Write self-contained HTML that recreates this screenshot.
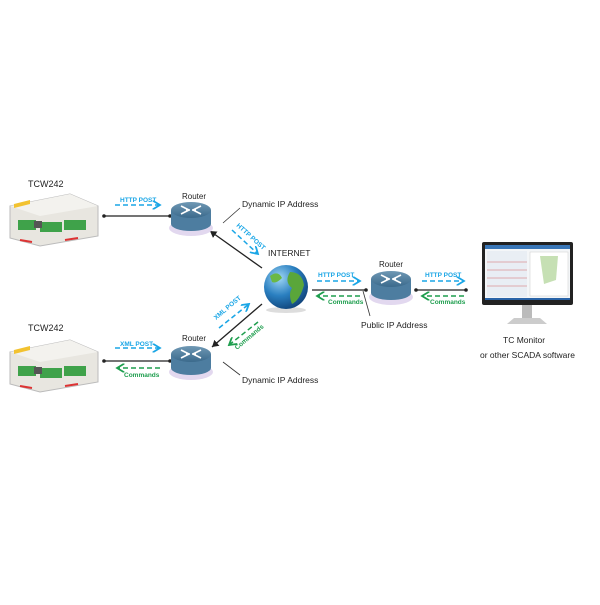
<!DOCTYPE html>
<html><head><style>
body{margin:0;background:#fff;width:600px;height:600px;overflow:hidden}
text{font-family:"Liberation Sans",sans-serif}
</style></head><body>
<svg width="600" height="600" viewBox="0 0 600 600">
<defs>
<linearGradient id="rt" x1="0" y1="0" x2="0" y2="1"><stop offset="0" stop-color="#6f98b4"/><stop offset="1" stop-color="#3b6a8c"/></linearGradient>
<radialGradient id="gl" cx="0.35" cy="0.3" r="0.8"><stop offset="0" stop-color="#9fd6f5"/><stop offset="0.5" stop-color="#2a7fc0"/><stop offset="1" stop-color="#0c3b70"/></radialGradient>
<g id="router">
<ellipse cx="0" cy="12" rx="22" ry="8" fill="#e2d8ef"/>
<path d="M-20,-6 L-20,8 A20,7 0 0 0 20,8 L20,-6 Z" fill="#4d7da0"/>
<ellipse cx="0" cy="-6" rx="20" ry="8" fill="url(#rt)"/>
<path d="M-10,-10 L-2,-6 M10,-10 L2,-6 M-10,-2 L-2,-6 M10,-2 L2,-6 M-5,-6 L-1,-6 M5,-6 L1,-6" stroke="#fff" stroke-width="1.6"/>
</g>
<g id="dev">
<path d="M0,12 L60,0 L88,12 L88,42 L30,52 L0,44 Z" fill="#e8e6e0" stroke="#bbb"/>
<path d="M0,12 L60,0 L88,12 L30,22 Z" fill="#f3f2ee"/>
<rect x="8" y="26" width="18" height="10" fill="#3fa24a"/>
<rect x="30" y="28" width="22" height="10" fill="#3fa24a"/>
<rect x="54" y="26" width="22" height="10" fill="#3fa24a"/>
<rect x="24" y="27" width="8" height="7" fill="#555"/>
<path d="M4,10 L20,6 L20,10 L4,14 Z" fill="#f2c230"/>
<path d="M10,46 L22,48 M55,46 L68,44" stroke="#d33" stroke-width="2"/>
</g>
<marker id="ab" markerWidth="6" markerHeight="6" refX="5" refY="3" orient="auto"><path d="M0,0 L5,3 L0,6" fill="none" stroke="#1aa6e6" stroke-width="1.2"/></marker>
<marker id="ag" markerWidth="6" markerHeight="6" refX="5" refY="3" orient="auto"><path d="M0,0 L5,3 L0,6" fill="none" stroke="#1e9e4e" stroke-width="1.2"/></marker>
<marker id="ak" markerWidth="6" markerHeight="6" refX="5" refY="3" orient="auto"><path d="M0,0 L5,3 L0,6 Z" fill="#222"/></marker>
</defs>

<g font-size="9" fill="#222">
<text x="28" y="187">TCW242</text>
<text x="28" y="331">TCW242</text>
<text x="182" y="199" font-size="8">Router</text>
<text x="182" y="341" font-size="8">Router</text>
<text x="379" y="267" font-size="8">Router</text>
<text x="242" y="207" font-size="8.5">Dynamic IP Address</text>
<text x="242" y="383" font-size="8.5">Dynamic IP Address</text>
<text x="268" y="256" font-size="8.5">INTERNET</text>
<text x="361" y="328" font-size="8.5">Public IP Address</text>
<text x="503" y="343" font-size="8.5">TC Monitor</text>
<text x="480" y="358" font-size="8.5">or other SCADA software</text>
</g>

<use href="#dev" x="10" y="194"/>
<use href="#dev" x="10" y="340"/>

<g stroke="#222" stroke-width="1.3">
<line x1="104" y1="216" x2="170" y2="216"/>
<line x1="104" y1="361" x2="170" y2="361"/>
<line x1="262" y1="268" x2="210" y2="231" marker-end="url(#ak)"/>
<line x1="262" y1="304" x2="212" y2="347" marker-end="url(#ak)"/>
<line x1="312" y1="290" x2="366" y2="290"/>
<line x1="416" y1="290" x2="466" y2="290"/>
</g>
<g stroke="#333" stroke-width="0.8">
<line x1="223" y1="223" x2="240" y2="208"/>
<line x1="223" y1="362" x2="240" y2="375"/>
<line x1="363" y1="291" x2="370" y2="316"/>
</g>
<g fill="#222"><circle cx="104" cy="216" r="1.8"/><circle cx="170" cy="216" r="1.8"/><circle cx="104" cy="361" r="1.8"/><circle cx="170" cy="361" r="1.8"/><circle cx="366" cy="290" r="1.8"/><circle cx="416" cy="290" r="1.8"/><circle cx="466" cy="290" r="1.8"/></g>

<g stroke-dasharray="5,3" stroke-width="1.5" fill="none">
<line x1="115" y1="205" x2="160" y2="205" stroke="#1aa6e6" marker-end="url(#ab)"/>
<line x1="115" y1="348" x2="160" y2="348" stroke="#1aa6e6" marker-end="url(#ab)"/>
<line x1="160" y1="368" x2="117" y2="368" stroke="#1e9e4e" marker-end="url(#ag)"/>
<line x1="232" y1="230" x2="258" y2="254" stroke="#1aa6e6" marker-end="url(#ab)"/>
<line x1="219" y1="328" x2="249" y2="304" stroke="#1aa6e6" marker-end="url(#ab)"/>
<line x1="258" y1="322" x2="229" y2="345" stroke="#1e9e4e" marker-end="url(#ag)"/>
<line x1="317" y1="281" x2="360" y2="281" stroke="#1aa6e6" marker-end="url(#ab)"/>
<line x1="360" y1="296" x2="317" y2="296" stroke="#1e9e4e" marker-end="url(#ag)"/>
<line x1="422" y1="281" x2="464" y2="281" stroke="#1aa6e6" marker-end="url(#ab)"/>
<line x1="464" y1="296" x2="422" y2="296" stroke="#1e9e4e" marker-end="url(#ag)"/>
</g>
<g font-size="6.5" font-weight="bold">
<text x="120" y="202" fill="#1aa6e6">HTTP POST</text>
<text x="120" y="346" fill="#1aa6e6">XML POST</text>
<text x="124" y="377" fill="#1e9e4e">Commands</text>
<text x="318" y="277" fill="#1aa6e6">HTTP POST</text>
<text x="328" y="304" fill="#1e9e4e">Commands</text>
<text x="425" y="277" fill="#1aa6e6">HTTP POST</text>
<text x="430" y="304" fill="#1e9e4e">Commands</text>
<text transform="translate(236,226) rotate(42)" fill="#1aa6e6">HTTP POST</text>
<text transform="translate(216,320) rotate(-40)" fill="#1aa6e6">XML POST</text>
<text transform="translate(237,350) rotate(-40)" fill="#1e9e4e">Commands</text>
</g>

<use href="#router" x="191" y="216"/>
<use href="#router" x="191" y="360"/>
<use href="#router" x="391" y="285"/>

<ellipse cx="286" cy="310" rx="20" ry="3" fill="#ddd"/>
<circle cx="286" cy="287" r="22" fill="url(#gl)"/>
<path d="M290,272 Q302,272 304,285 Q300,300 292,304 Q288,294 292,288 Q284,282 290,272 Z" fill="#5aa63a"/>
<path d="M270,276 Q278,270 282,278 Q276,284 272,282 Z" fill="#6bb845"/>

<rect x="482" y="242" width="91" height="63" rx="2" fill="#222"/>
<rect x="485" y="245" width="85" height="55" fill="#f4f6f8"/>
<rect x="485" y="245" width="85" height="4" fill="#3a77b8"/>
<rect x="487" y="251" width="40" height="46" fill="#e9eef4"/>
<rect x="530" y="252" width="38" height="44" fill="#fff" stroke="#ccc" stroke-width="0.5"/>
<path d="M540,256 L558,256 L556,280 L544,284 Z" fill="#c6e0b4"/>
<path d="M487,262 H527 M487,270 H527 M487,278 H527 M487,286 H527" stroke="#c44" stroke-width="0.4"/>
<rect x="485" y="298" width="85" height="2" fill="#2a64a8"/>
<rect x="522" y="305" width="10" height="14" fill="#bbb"/>
<path d="M507,324 L547,324 L540,318 L514,318 Z" fill="#ccc"/>
</svg>
</body></html>
